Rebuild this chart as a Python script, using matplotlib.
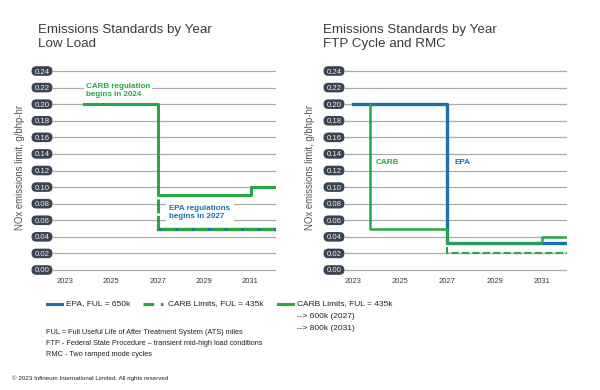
import numpy as np
import matplotlib
matplotlib.use("Agg")
import matplotlib.pyplot as plt
from matplotlib.lines import Line2D
from matplotlib.patches import FancyBboxPatch

plt.rcParams['font.family'] = ['Liberation Sans', 'DejaVu Sans']

GREEN = '#27a844'
BLUE = '#1a72aa'
PILL = '#3b4452'
GRID = '#ababab'
DARK = '#3a3a3a'

# y ticks shared by both panels
y_ticks = [0.00, 0.02, 0.04, 0.06, 0.08, 0.10, 0.12, 0.14, 0.16, 0.18, 0.20, 0.22, 0.24]
x_ticks = [2023, 2025, 2027, 2029, 2031]

# Low Load panel
low_carb_years = [2023.8, 2027, 2031, 2032.1]
low_carb_vals = [0.20, 0.09, 0.10, 0.10]
low_carb_dash_years = [2027, 2027, 2032.1]
low_carb_dash_vals = [0.086, 0.05, 0.05]
low_epa_years = [2027, 2032.1]
low_epa_vals = [0.05, 0.05]

# FTP / RMC panel
ftp_epa_years = [2023, 2027, 2032.05]
ftp_epa_vals = [0.20, 0.033, 0.033]
ftp_carb_years = [2023.7, 2023.7, 2027, 2031, 2032.05]
ftp_carb_vals = [0.20, 0.05, 0.033, 0.04, 0.04]
ftp_carb_dash_years = [2027, 2027, 2032.05]
ftp_carb_dash_vals = [0.028, 0.02, 0.02]

W, H = 600, 390
fig = plt.figure(figsize=(6, 3.9), dpi=100)


def make_axes(x0_px, x1_px, xlim, pill_cx):
    # y: 0.00 at 270px, 0.24 at 71px (from top)
    ppu = (270 - 71) / 0.24
    ylim = (-0.006, 0.246)
    top_px = 270 - (ylim[1]) * ppu
    bot_px = 270 - (ylim[0]) * ppu
    ax = fig.add_axes([x0_px / W, 1 - bot_px / H, (x1_px - x0_px) / W, (bot_px - top_px) / H])
    ax.set_xlim(*xlim)
    ax.set_ylim(*ylim)
    for s in ax.spines.values():
        s.set_visible(False)
    ax.set_yticks([])
    ax.set_xticks(x_ticks)
    ax.set_xticklabels([str(v) for v in x_ticks])
    ax.tick_params(axis='x', length=0, pad=2.5, labelsize=5.5, labelcolor=DARK)
    for v in y_ticks:
        ax.axhline(v, color=GRID, lw=0.9, zorder=0)
    ax.set_facecolor('none')

    # rounded "pill" tick labels
    pw, ph = 21, 9.6
    for v in y_ticks:
        cy = 270 - v * ppu
        p = FancyBboxPatch(((pill_cx - pw / 2) / W, 1 - (cy + ph / 2) / H), pw / W, ph / H,
                           boxstyle=f"round,pad=0,rounding_size={ph / 2 / W}",
                           mutation_aspect=W / H, transform=fig.transFigure,
                           fc=PILL, ec='none')
        fig.add_artist(p)
        fig.text(pill_cx / W, 1 - cy / H, f"{v:.2f}", color='#eeeeee', fontsize=5.6,
                 ha='center', va='center_baseline')
    return ax


# ---- Left panel ----
ax1 = make_axes(53, 276, (2022.48, 2032.1), 42)
ax1.plot(low_epa_years, low_epa_vals, color=BLUE, lw=2.4, zorder=3)
ax1.plot(low_carb_dash_years, low_carb_dash_vals, color=GREEN, lw=2.2,
         dashes=(4.5, 0.9), zorder=4)
ax1.plot(low_carb_years, low_carb_vals, color=GREEN, lw=2.2, drawstyle='steps-post', zorder=4)
ax1.text(2023.9, 0.2165, "CARB regulation\nbegins in 2024", color=GREEN, fontsize=5.8,
         fontweight='bold', va='center', ha='left', linespacing=1.3,
         bbox=dict(fc='white', ec='none', pad=1.5), zorder=5)
ax1.text(2027.5, 0.0695, "EPA regulations\nbegins in 2027", color=BLUE, fontsize=5.8,
         fontweight='bold', va='center', ha='left', linespacing=1.3,
         bbox=dict(fc='white', ec='none', pad=2.5), zorder=5)

fig.text(38 / W, 1 - 37 / H, "Emissions Standards by Year\nLow Load", fontsize=9.6,
         color=DARK, va='center', ha='left', linespacing=1.3)
fig.text(20 / W, 1 - 167 / H, "NOx emissions limit, g/bhp-hr", rotation=90, fontsize=6.9,
         color='#555555', va='center', ha='center')

# ---- Right panel ----
ax2 = make_axes(345, 567, (2022.66, 2032.07), 334)
ax2.plot(ftp_epa_years, ftp_epa_vals, color=BLUE, lw=2.4, drawstyle='steps-post', zorder=3)
ax2.plot(ftp_carb_years, ftp_carb_vals, color=GREEN, lw=1.8, drawstyle='steps-post', zorder=4)
ax2.plot(ftp_carb_dash_years, ftp_carb_dash_vals, color=GREEN, lw=1.5,
         dashes=(3.5, 1.5), zorder=4)
ax2.text(2023.95, 0.130, "CARB", color=GREEN, fontsize=5.9, fontweight='bold',
         va='center', ha='left')
ax2.text(2027.3, 0.130, "EPA", color=BLUE, fontsize=5.9, fontweight='bold',
         va='center', ha='left')

fig.text(323 / W, 1 - 37 / H, "Emissions Standards by Year\nFTP Cycle and RMC", fontsize=9.6,
         color=DARK, va='center', ha='left', linespacing=1.3)
fig.text(310 / W, 1 - 167 / H, "NOx emissions limit, g/bhp-hr", rotation=90, fontsize=6.9,
         color='#555555', va='center', ha='center')

# ---- Legend ----
def key(x0, x1, y, color, dashed=False):
    ln = Line2D([x0 / W, x1 / W], [1 - y / H, 1 - y / H], transform=fig.transFigure,
                color=color, lw=2.2)
    if dashed:
        ln.set_dashes((3.5, 2.2))
    fig.add_artist(ln)

LEG_FS = 6.0
key(47, 62, 304, BLUE)
fig.text(66 / W, 1 - 304 / H, "EPA, FUL = 650k", fontsize=LEG_FS, color='#222222', va='center')
key(143, 163, 304, GREEN, dashed=True)
fig.text(168 / W, 1 - 304 / H, "CARB Limits, FUL = 435k", fontsize=LEG_FS, color='#222222', va='center')
key(278, 293, 304, GREEN)
fig.text(297 / W, 1 - 304 / H, "CARB Limits, FUL = 435k", fontsize=LEG_FS, color='#222222', va='center')
fig.text(297 / W, 1 - 316 / H, "--> 600k (2027)", fontsize=LEG_FS, color='#222222', va='center')
fig.text(297 / W, 1 - 328 / H, "--> 800k (2031)", fontsize=LEG_FS, color='#222222', va='center')

notes = ["FUL = Full Useful Life of After Treatment System (ATS) miles",
         "FTP - Federal State Procedure \u2013 transient mid-high load conditions",
         "RMC - Two ramped mode cycles"]
for i, t in enumerate(notes):
    fig.text(46 / W, 1 - (332 + 11.3 * i) / H, t, fontsize=5.3, color='#222222', va='center')

fig.text(12 / W, 1 - 378 / H, "\u00a9 2023 Infineum International Limited. All rights reserved",
         fontsize=4.5, color='#222222', va='center')

fig.savefig("out.png", dpi=100)
